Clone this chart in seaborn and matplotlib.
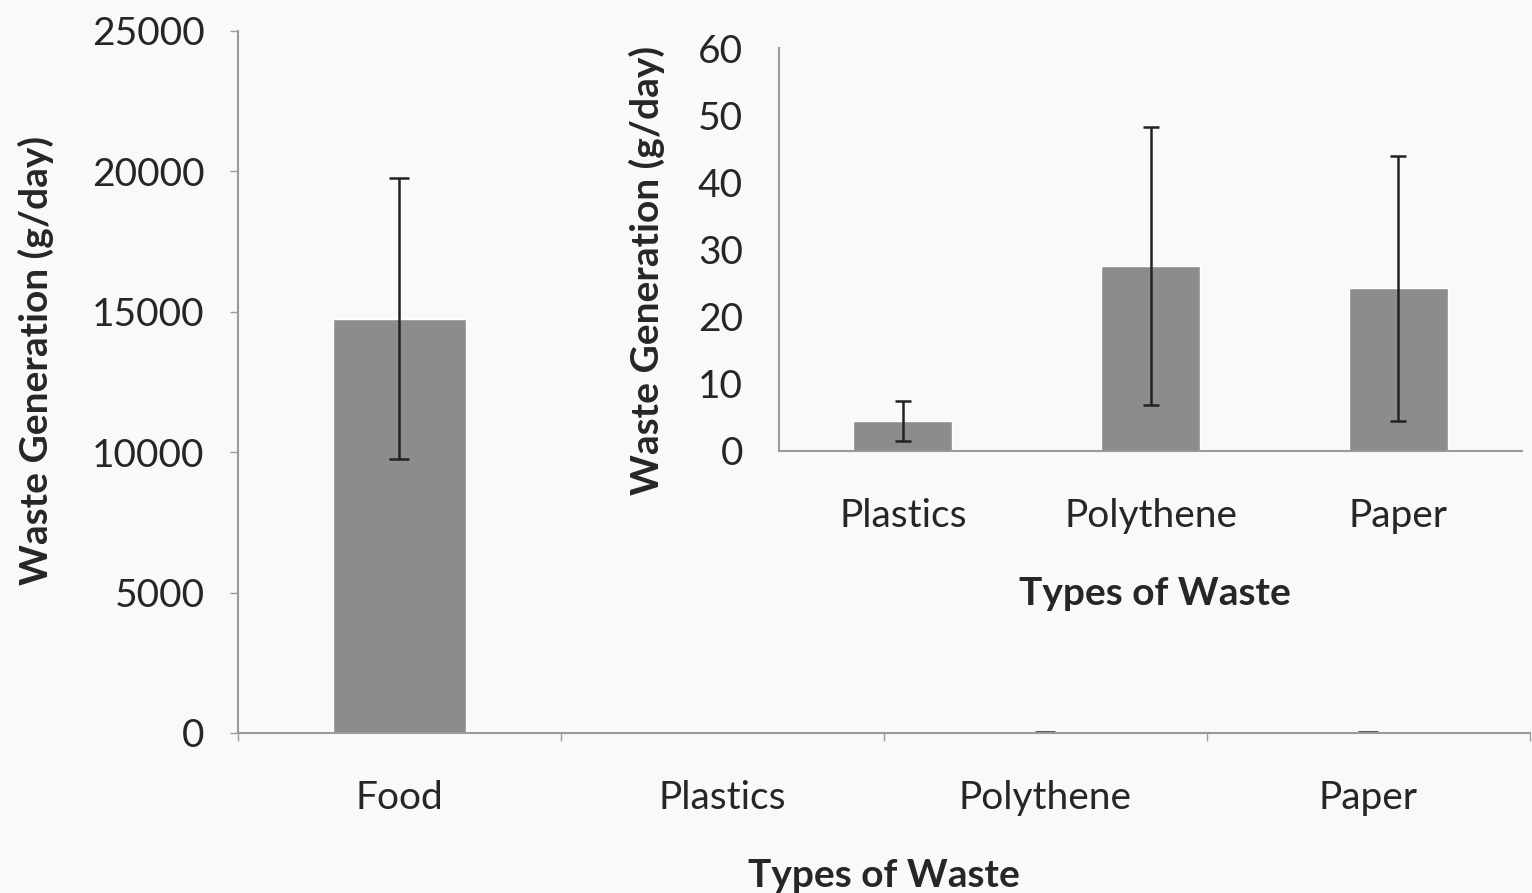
import numpy as np
import pandas as pd
import matplotlib
matplotlib.use('Agg')
import matplotlib.pyplot as plt
import seaborn as sns

# main chart data (g/day)
types_all = ['Food', 'Plastics', 'Polythene', 'Paper']
mean_all = [14750, 4.5, 27.5, 24.2]
sd_all = [5000, 3.0, 20.7, 19.7]

# inset (zoomed) data without food
types_small = ['Plastics', 'Polythene', 'Paper']
mean_small = [4.5, 27.5, 24.2]
sd_small = [3.0, 20.7, 19.7]

sns.set_theme(style='white')
plt.rcParams['font.family'] = ['Lato', 'DejaVu Sans']

bar_col = '#8c8c8c'
spine_col = '#9a9a9a'
txt_col = '#262626'
fs = 28

fig = plt.figure(figsize=(15.32, 8.93), dpi=100)
fig.patch.set_facecolor('#f9f9f9')

# ---- main axes
ax = fig.add_axes([0.1553, 0.1792, 0.8434, 0.7861])
ax.set_facecolor('none')
df = pd.DataFrame({'type': types_all, 'mean': mean_all})
sns.barplot(data=df, x='type', y='mean', color=bar_col, width=0.41,
            errorbar=None, saturation=1, ax=ax)
ax.errorbar(np.arange(len(types_all)), mean_all, yerr=sd_all, fmt='none',
            ecolor='#222222', elinewidth=1.8, capsize=7, capthick=1.8)
ax.set_ylim(0, 25000)
ax.set_xlim(-0.5, 3.5)
ax.set_yticks(np.arange(0, 25001, 5000))
ax.set_xticks(np.arange(-0.5, 3.6, 1), minor=True)
ax.tick_params(axis='x', which='major', length=0, pad=34, labelsize=fs, labelcolor=txt_col)
ax.tick_params(axis='x', which='minor', length=6, width=1, color=spine_col, direction='out', bottom=True)
ax.tick_params(axis='y', length=6, width=1, color=spine_col, direction='out', left=True,
               pad=18, labelsize=fs, labelcolor=txt_col)
for s in ['top', 'right']:
    ax.spines[s].set_visible(False)
for s in ['left', 'bottom']:
    ax.spines[s].set_color(spine_col)
    ax.spines[s].set_linewidth(1.5)
ax.set_xlabel('Types of Waste', fontsize=fs, fontweight='bold', color=txt_col)
ax.set_ylabel('Waste Generation (g/day)', fontsize=fs, fontweight='bold', color=txt_col)
ax.xaxis.set_label_coords(0.5, -0.178)
ax.yaxis.set_label_coords(-0.142, 0.53)

# ---- inset axes
ins = fig.add_axes([0.5085, 0.4950, 0.4850, 0.4512])
ins.set_facecolor('none')
ds = pd.DataFrame({'type': types_small, 'mean': mean_small})
sns.barplot(data=ds, x='type', y='mean', color=bar_col, width=0.40,
            errorbar=None, saturation=1, ax=ins)
ins.errorbar(np.arange(len(types_small)), mean_small, yerr=sd_small, fmt='none',
             ecolor='#222222', elinewidth=1.8, capsize=6, capthick=1.8)
ins.set_ylim(0, 60)
ins.set_xlim(-0.5, 2.5)
ins.set_yticks(np.arange(0, 61, 10))
ins.tick_params(axis='x', length=0, pad=34, labelsize=fs, labelcolor=txt_col)
ins.tick_params(axis='y', length=0, pad=26, labelsize=fs, labelcolor=txt_col)
for s in ['top', 'right']:
    ins.spines[s].set_visible(False)
for s in ['left', 'bottom']:
    ins.spines[s].set_color(spine_col)
    ins.spines[s].set_linewidth(1.5)
ins.set_xlabel('Types of Waste', fontsize=fs, fontweight='bold', color=txt_col)
ins.set_ylabel('Waste Generation (g/day)', fontsize=fs, fontweight='bold', color=txt_col)
ins.xaxis.set_label_coords(0.506, -0.31)
ins.yaxis.set_label_coords(-0.153, 0.447)

fig.savefig('out.png', dpi=100, facecolor=fig.get_facecolor())
